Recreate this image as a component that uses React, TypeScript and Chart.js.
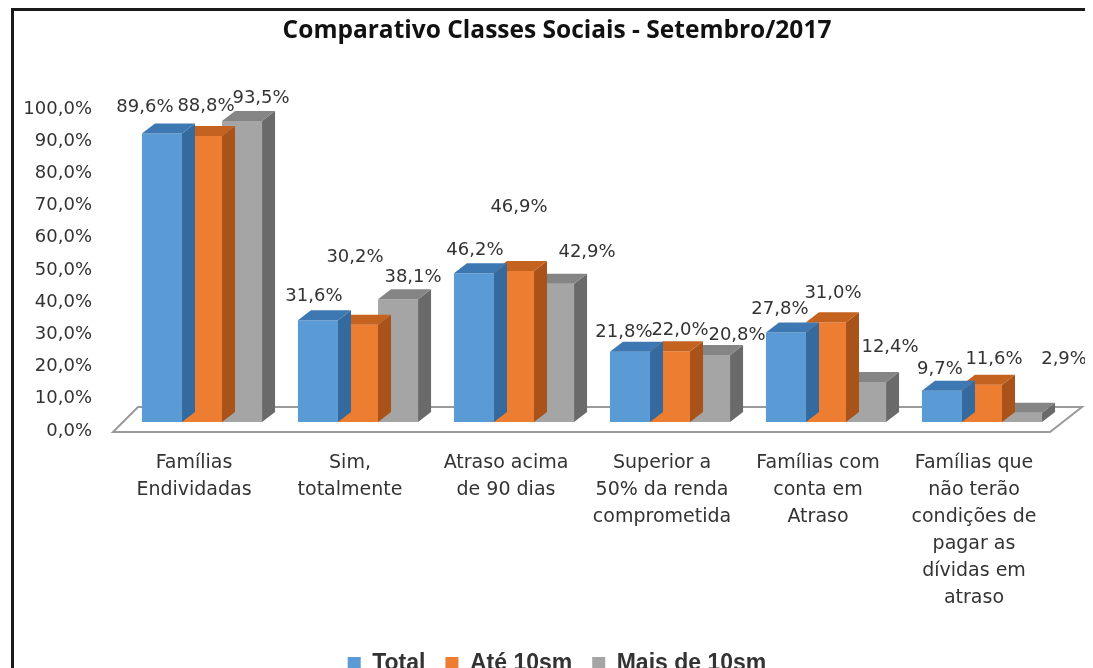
import React, { useEffect, useRef } from "react";
import { Chart, registerables } from "chart.js";

Chart.register(...registerables);

const categories: string[][] = [
  ["Famílias", "Endividadas"],
  ["Sim,", "totalmente"],
  ["Atraso acima", "de 90 dias"],
  ["Superior a", "50% da renda", "comprometida"],
  ["Famílias com", "conta em", "Atraso"],
  ["Famílias que", "não terão", "condições de", "pagar as", "dívidas em", "atraso"],
];

const seriesNames = ["Total", "Até 10sm", "Mais de 10sm"];
const totalValues = [89.6, 31.6, 46.2, 21.8, 27.8, 9.7];
const ate10Values = [88.8, 30.2, 46.9, 22.0, 31.0, 11.6];
const mais10Values = [93.5, 38.1, 42.9, 20.8, 12.4, 2.9];

const yTicks = [0, 10, 20, 30, 40, 50, 60, 70, 80, 90, 100];

// label nudges (px) relative to the bar top, per series / category
const labelNudge: [number, number][][] = [
  [[-17, -26], [-4, -24], [1, -23], [-6, -19], [-6, -23], [-2, -21]],
  [[4, -30], [-3, -67], [5, -64], [10, -21], [7, -29], [12, -25]],
  [[19, -23], [15, -22], [33, -32], [27, -20], [24, -35], [42, -53]],
];

const frontColors = ["#5B9BD5", "#ED7D31", "#A5A5A5"];
const topColors = ["#3E78B2", "#C4621F", "#858585"];
const sideColors = ["#356A9E", "#A9531A", "#6A6A6A"];

const DX = 13;
const DY = 10;
const CANVAS_H = 674;

const fmt = (v: number) => v.toFixed(1).replace(".", ",") + "%";

const threeD = {
  id: "threeD",
  afterLayout(chart: any) {
    // let the value-axis labels use the space to the left of the axis box
    chart.scales.y.left = 0;
  },
  beforeDatasetsDraw(chart: any) {
    const { ctx, chartArea, scales } = chart;
    const base = scales.y.getPixelForValue(0);
    const fy = base + 10;
    const by = base - 15;
    ctx.save();
    ctx.beginPath();
    ctx.moveTo(chartArea.left - 11, fy);
    ctx.lineTo(chartArea.right - 10, fy);
    ctx.lineTo(chartArea.right + 22, by);
    ctx.lineTo(chartArea.left + 14, by);
    ctx.closePath();
    ctx.fillStyle = "#ffffff";
    ctx.fill();
    ctx.lineWidth = 2;
    ctx.strokeStyle = "#9a9a9a";
    ctx.stroke();
    ctx.restore();
  },
  afterDatasetDraw(chart: any, args: any) {
    const { ctx } = chart;
    const i = args.index;
    const meta = args.meta;
    ctx.save();
    meta.data.forEach((bar: any) => {
      const w = bar.width;
      const l = bar.x - w / 2;
      const r = bar.x + w / 2;
      const t = bar.y;
      const b = bar.base;
      ctx.beginPath();
      ctx.moveTo(r, t);
      ctx.lineTo(r + DX, t - DY);
      ctx.lineTo(r + DX, b - DY);
      ctx.lineTo(r, b);
      ctx.closePath();
      ctx.fillStyle = sideColors[i];
      ctx.fill();
      ctx.beginPath();
      ctx.moveTo(l, t);
      ctx.lineTo(r, t);
      ctx.lineTo(r + DX, t - DY);
      ctx.lineTo(l + DX, t - DY);
      ctx.closePath();
      ctx.fillStyle = topColors[i];
      ctx.fill();
    });
    ctx.restore();
  },
  afterDatasetsDraw(chart: any) {
    const { ctx } = chart;
    ctx.save();
    ctx.font = "18px 'DejaVu Sans'";
    ctx.fillStyle = "#333333";
    ctx.textAlign = "center";
    ctx.textBaseline = "middle";
    chart.data.datasets.forEach((ds: any, i: number) => {
      const meta = chart.getDatasetMeta(i);
      meta.data.forEach((bar: any, j: number) => {
        const [nx, ny] = labelNudge[i][j];
        ctx.fillText(fmt(ds.data[j]), bar.x + nx, bar.y + ny);
      });
    });
    ctx.restore();
  },
};

export default function App() {
  const ref = useRef<HTMLCanvasElement>(null);
  useEffect(() => {
    document.documentElement.style.overflow = "hidden";
    document.body.style.overflow = "hidden";
    const chart = new Chart(ref.current!, {
      type: "bar",
      data: {
        labels: categories,
        datasets: [totalValues, ate10Values, mais10Values].map((d, i) => ({
          label: seriesNames[i],
          data: d,
          backgroundColor: frontColors[i],
          borderWidth: 0,
          categoryPercentage: 0.77,
          barPercentage: 1,
        })),
      },
      options: {
        animation: false,
        responsive: false,
        devicePixelRatio: 1,
        layout: { padding: { left: 40, right: 33, top: 0, bottom: 0 } },
        plugins: {
          title: {
            display: true,
            text: "Comparativo Classes Sociais - Setembro/2017",
            color: "#111",
            font: { family: "'Open Sans'", size: 24.5, weight: "bold" },
            padding: { top: 5, bottom: 54.6 },
          },
          legend: {
            position: "bottom",
            labels: {
              boxWidth: 13,
              boxHeight: 13,
              padding: 20,
              color: "#333",
              font: { family: "'Liberation Sans'", size: 23, weight: "bold" },
            },
          },
          tooltip: { enabled: false },
        },
        scales: {
          x: {
            grid: { display: false, drawTicks: false },
            border: { display: false },
            ticks: {
              padding: 28,
              labelOffset: -8,
              color: "#333333",
              maxRotation: 0,
              autoSkip: false,
              font: { family: "'DejaVu Sans'", size: 19, lineHeight: 1.42 },
            },
            afterFit: (s: any) => {
              const lh = s.chart.legend ? s.chart.legend.height : 0;
              s.height = s.chart.height - lh - 411;
            },
          },
          y: {
            min: 0,
            max: 100,
            afterBuildTicks: (s: any) => {
              s.ticks = yTicks.map((v) => ({ value: v }));
            },
            grid: { display: false, drawTicks: false },
            border: { display: false },
            ticks: {
              padding: 32,
              labelOffset: 9,
              color: "#333333",
              font: { family: "'DejaVu Sans'", size: 18 },
              callback: (v: any) => fmt(Number(v)),
            },
            afterFit: (s: any) => {
              s.width = 70;
            },
          },
        },
      },
      plugins: [threeD],
    });
    return () => chart.destroy();
  }, []);
  return (
    <div
      style={{
        marginLeft: 3,
        borderTop: "3px solid #1a1a1a",
        borderLeft: "3px solid #1a1a1a",
        width: 1100,
        height: CANVAS_H,
      }}
    >
      <style>{"html,body{overflow:hidden}"}</style>
      <canvas ref={ref} width={1079} height={CANVAS_H} style={{ display: "block" }} />
    </div>
  );
}
